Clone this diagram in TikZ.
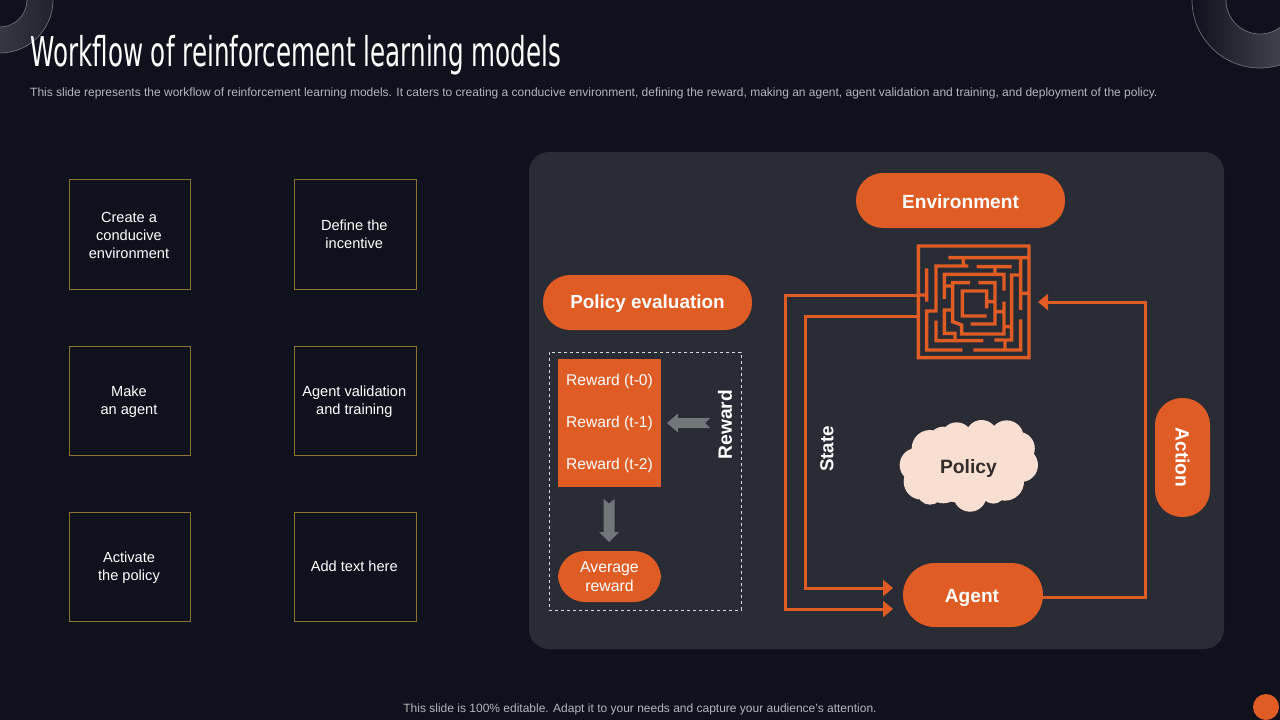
\documentclass[tikz,border=0pt]{standalone}
\usepackage{fontspec}
\setmainfont{Liberation Sans}
\newfontfamily\titlefont[FakeStretch=0.6]{DejaVu Sans}
\usetikzlibrary{arrows.meta}
\definecolor{bgc}{HTML}{0F121C}
\definecolor{panelc}{HTML}{292B35}
\definecolor{orangec}{HTML}{DF5C24}
\definecolor{goldc}{HTML}{8F7330}
\definecolor{grayc}{HTML}{70767A}
\definecolor{subc}{HTML}{B4B6BA}
\definecolor{cloudc}{HTML}{F9DED2}
\definecolor{ringc}{HTML}{6C6F74}
\newcommand{\fs}[2]{\fontsize{#1}{#2}\selectfont}
\tikzset{
  textbox/.style={draw=goldc,line width=0.8pt,minimum width=121pt,minimum height=109.6pt,inner sep=0pt},
  boxtxt/.style={inner sep=0pt,align=center,text=white,font=\fs{14.6}{18}},
  pill/.style={fill=orangec,rounded corners=27pt,inner sep=0pt,text=white,align=center},
  boldlab/.style={text=white,inner sep=0pt,font=\bfseries\fs{19.2}{22}},
  flow/.style={draw=orangec,line width=3pt,-{Triangle[length=10pt,width=16pt]}},
  mazeline/.style={draw=orangec,line width=3.4pt},
  rewardtxt/.style={text=white,inner sep=0pt,font=\fs{15.6}{18}},
  ring/.style={draw=ringc,line width=0.7pt,even odd rule},
  blockarrow/.style={fill=grayc}
}
\begin{document}
\begin{tikzpicture}[x=1pt,y=-1pt]
\useasboundingbox (0,0) rectangle (1280,720);
\fill[bgc] (0,0) rectangle (1280,720);
% corner rings
\begin{scope}
\clip (0,0) rectangle (1280,720);
\shade[ring,left color=ringc!64!bgc,right color=ringc!18!bgc] (0,0) circle (53) (0,0) circle (27);
\shade[ring,left color=bgc,right color=ringc!80!bgc] (1260,0) circle (68) (1260,0) circle (34);
\end{scope}
% heading
\node[anchor=west,inner sep=0pt,text=white,font=\titlefont\fs{41}{44}] (title) at (30,55) {Workflow of reinforcement learning models};
\node[anchor=west,inner sep=0pt,text=subc,font=\fs{11.99}{14}] (sub) at (30,93.7) {This slide represents the workflow of reinforcement learning models. It caters to creating a conducive environment, defining the reward, making an agent, agent validation and training, and deployment of the policy.};
\node[inner sep=0pt,text=subc,font=\fs{12}{14}] (foot) at (640,709.7) {This slide is 100\% editable. Adapt it to your needs and capture your audience's attention.};
\node[circle,fill=orangec,minimum size=26pt,inner sep=0pt] (dot) at (1266,707) {};
% left boxes
\node[textbox] (b1) at (129.5,234.4) {};
\node[boxtxt] (t1) at (129,235) {Create a\\conducive\\environment};
\node[textbox,minimum width=122pt] (b2) at (355,234.4) {};
\node[boxtxt] (t2) at (354.3,234.5) {Define the\\incentive};
\node[textbox] (b3) at (129.5,401) {};
\node[boxtxt] (t3) at (129,402) {Make\\an agent};
\node[textbox,minimum width=122pt] (b4) at (355,401) {};
\node[boxtxt] (t4) at (354.3,402) {Agent validation\\and training};
\node[textbox] (b5) at (129.5,567) {};
\node[boxtxt] (t5) at (129,568) {Activate\\the policy};
\node[textbox,minimum width=122pt] (b6) at (355,567) {};
\node[boxtxt] (t6) at (354.3,566.5) {Add text here};
% panel
\fill[panelc,rounded corners=20pt] (529,152) rectangle (1224,649);
% policy evaluation side
\node[pill,minimum width=209pt,minimum height=55pt] (pe) at (647.5,302.5) {};
\node[inner sep=0pt,text=white,font=\bfseries\fs{18.9}{22}] (pet) at (647.5,304) {Policy evaluation};
\node[draw=white!85!black,dashed,line width=0.6pt,minimum width=192pt,minimum height=258pt,inner sep=0pt] (dash) at (645.3,481.2) {};
\node[fill=orangec,minimum width=103pt,minimum height=128pt,inner sep=0pt] (rblock) at (609.5,423) {};
\node[rewardtxt] (r0) at (609.5,381) {Reward (t-0)};
\node[rewardtxt] (r1) at (609.5,423) {Reward (t-1)};
\node[rewardtxt] (r2) at (609.5,465) {Reward (t-2)};
\node[boldlab,rotate=90] (rl) at (725,424.5) {Reward};
\node[pill,minimum width=103pt,minimum height=51pt] (avg) at (609.5,576.5) {};
\node[inner sep=0pt,text=white,align=center,font=\fs{15.8}{19}] (avgt) at (609.5,577) {Average\\reward};
\fill[blockarrow] (667,423) -- (678,413.5) -- (678,418) -- (710,418) -- (705,423) -- (710,428) -- (678,428) -- (678,432.5) -- cycle;
\fill[blockarrow] (609,542) -- (599,532) -- (603.5,532) -- (603.5,499) -- (609,503.5) -- (614.5,499) -- (614.5,532) -- (619,532) -- cycle;
% right side nodes
\node[pill,minimum width=209pt,minimum height=55pt] (env) at (960.5,200.5) {};
\node[inner sep=0pt,text=white,font=\bfseries\fs{19.1}{22}] (envt) at (960.5,201.5) {Environment};
\node[pill,rounded corners=32pt,minimum width=140pt,minimum height=64pt] (agent) at (973,595) {};
\node[inner sep=0pt,text=white,font=\bfseries\fs{19.1}{22}] (agentt) at (972,597.5) {Agent};
\node[pill,rotate=-90,minimum width=119pt,minimum height=55pt,font=\bfseries\fs{19.2}{22}] (action) at (1182.5,457.5) {Action};
\node[boldlab,rotate=90,font=\bfseries\fs{18.8}{22}] (state) at (827,449) {State};
% cloud
\begin{scope}[shift={(890,410)},x=0.3333pt,y=-0.3333pt]
\fill[cloudc] (120,115) circle (18.3pt) (200,85) circle (16pt) (275,78) circle (16pt) (350,82) circle (17pt)
 (385,115) circle (16.5pt) (393,165) circle (17pt) (345,215) circle (19pt) (290,228) circle (15pt)
 (240,255) circle (16.7pt) (160,225) circle (18.3pt) (95,215) circle (18pt) (80,165) circle (17pt)
 (160,95) circle (15pt) (120,245) circle (13pt) (315,120) circle (20pt) (310,245) circle (12pt)
 (230,165) ellipse (60pt and 38pt);
\end{scope}
\node[inner sep=0pt,text=black!80!cloudc,font=\bfseries\fs{19.3}{22}] (policy) at (968.5,469) {Policy};
% maze
\node[minimum width=113pt,minimum height=113pt,inner sep=0pt] (maze) at (974,303) {};
\begin{scope}[shift={(900,230)},x=0.3333pt,y=-0.3333pt]
\draw[mazeline,line join=miter]
 (55,48) rectangle (387,383)
 (145,83) -- (387,83) (190,83) -- (190,108)
 (205,108) -- (108,108) -- (108,243) -- (80,243) -- (80,360) -- (187,360)
 (80,115) -- (80,215) (55,195) -- (80,195)
 (230,110) -- (335,110) (285,110) -- (285,133)
 (133,207) -- (133,133) -- (312,133) -- (312,182)
 (362,83) -- (362,240) (362,190) -- (387,190)
 (362,135) -- (335,135) -- (335,330) -- (283,330)
 (315,330) -- (315,360) (220,360) -- (362,360) -- (362,268)
 (133,168) -- (158,168)
 (210,158) -- (158,158) -- (158,275) -- (185,285) -- (185,312) -- (312,312) -- (312,215)
 (235,158) -- (285,158) -- (285,282) -- (212,282)
 (260,235) -- (260,183) -- (187,183) -- (187,258) -- (260,258)
 (260,215) -- (285,215) (285,245) -- (312,245) (312,290) -- (335,290)
 (158,240) -- (133,240) -- (133,310) -- (165,310) -- (165,332)
 (108,272) -- (108,332) -- (250,332);
\end{scope}
% connectors
\coordinate (m1) at (918,295);
\coordinate (m2) at (918,316);
\coordinate (mr) at (1038,302);
\coordinate (a1) at (893,588);
\coordinate (a2) at (893,609);
\draw[flow] (m1) -- (785,295) -- (785,609) -- (a2);
\draw[flow] (m2) -- (805,316) -- (805,588) -- (a1);
\draw[flow] ([yshift=-2pt]agent.east) -- (1145,597) -- (1145,302) -- (mr);
\end{tikzpicture}
\end{document}
